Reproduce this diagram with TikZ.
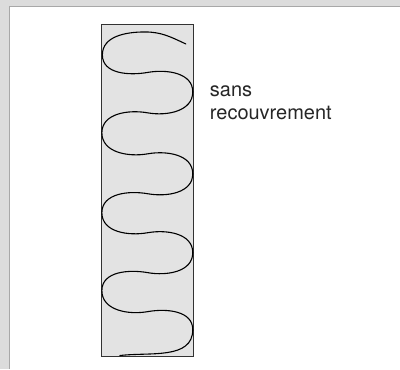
\documentclass[tikz,border=0pt]{standalone}
\usepackage{fontspec}
\setmainfont{TeX Gyre Heros}
\usetikzlibrary{positioning}
\definecolor{panel}{HTML}{DCDCDC}
\definecolor{frameline}{HTML}{A8A8A8}
\definecolor{stripfill}{HTML}{E3E3E3}
\tikzset{
  strip/.style={draw=black!80, line width=0.9pt, fill=stripfill, inner sep=0pt},
  wave/.style={line width=1.1pt, line cap=round},
  lbl/.style={text=black!85, font=\fontsize{20}{23}\selectfont, align=left, inner sep=0pt}
}

\begin{document}
\begin{tikzpicture}[x=1pt,y=1pt]
        \fill[panel] (0,0) rectangle (400,369);
        \fill[white] (9.5,0) rectangle (400,362.5);
        \draw[frameline, line width=1pt] (9.5,0) -- (9.5,362.5) -- (400,362.5);
        \useasboundingbox (0,0) rectangle (400,369);

        \node[strip, minimum width=91.8pt, minimum height=333pt] (S) at (147.4,178.5) {};
        \node[lbl, anchor=base west] (L) at (210,249.5) {sans\\recouvrement};

        \draw[wave] (186,325) to[out=155,in=0] (145,337) to[out=180,in=90] (102.5,314)
          to[out=-90,in=190] (148,296.5) to[out=10,in=90] (193,277)
          to[out=-90,in=-10] (148,256) to[out=170,in=90] (102,236)
          to[out=-90,in=190] (148,215) to[out=10,in=90] (193,195)
          to[out=-90,in=-10] (148,175) to[out=170,in=90] (102,156)
          to[out=-90,in=190] (148,136) to[out=10,in=90] (193,116)
          to[out=-90,in=-10] (148,96) to[out=170,in=90] (102,78)
          to[out=-90,in=190] (148,57) to[out=10,in=90] (193,39)
          to[out=-90,in=7] (120,13);
\end{tikzpicture}
\end{document}
